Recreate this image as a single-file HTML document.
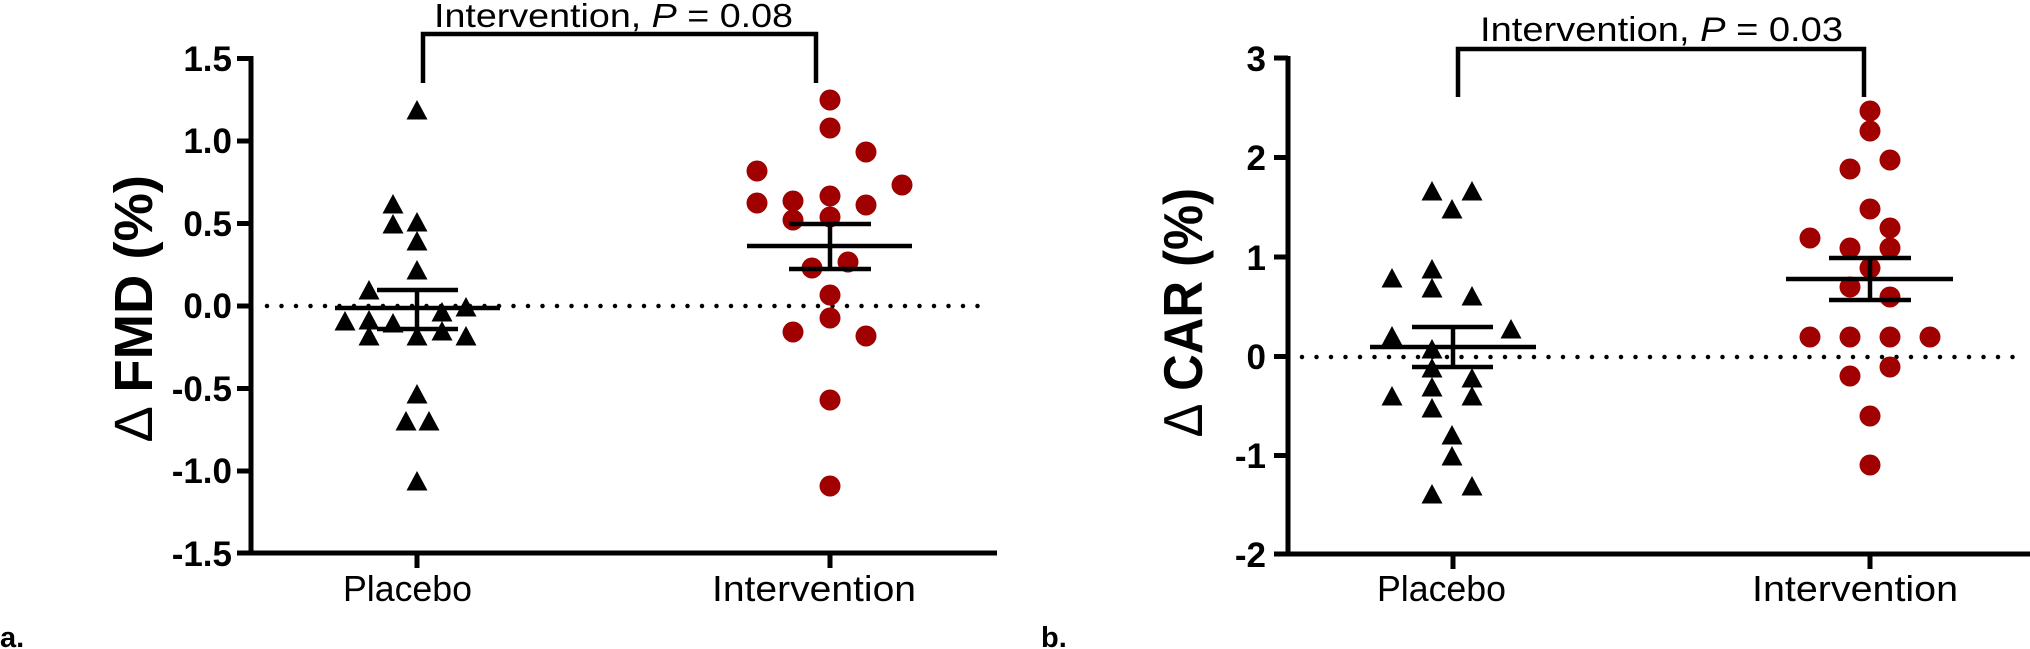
<!DOCTYPE html>
<html><head><meta charset="utf-8"><style>
html,body{margin:0;padding:0;background:#fff;}
svg{display:block;}
text{font-family:"Liberation Sans",sans-serif;}
</style></head><body>
<svg width="2030" height="649" viewBox="0 0 2030 649" xmlns="http://www.w3.org/2000/svg">
<defs>
<path id="tri" d="M0,-11 L10.5,8.5 L-10.5,8.5 Z" fill="#000"/>
<circle id="cir" r="10.5" fill="#a00000"/>
</defs>

<!-- ================= Panel a ================= -->
<g>
<!-- dotted zero line -->
<line x1="267" y1="306" x2="992" y2="306" stroke="#000" stroke-width="4.5" stroke-linecap="round" stroke-dasharray="0 14.5"/>
<!-- axes -->
<line x1="251" y1="56" x2="251" y2="555" stroke="#000" stroke-width="5"/>
<line x1="249" y1="553" x2="997" y2="553" stroke="#000" stroke-width="5"/>
<g stroke="#000" stroke-width="5">
<line x1="237" y1="58.5" x2="251" y2="58.5"/>
<line x1="237" y1="141" x2="251" y2="141"/>
<line x1="237" y1="223.5" x2="251" y2="223.5"/>
<line x1="237" y1="306" x2="251" y2="306"/>
<line x1="237" y1="388.5" x2="251" y2="388.5"/>
<line x1="237" y1="471" x2="251" y2="471"/>
<line x1="237" y1="553" x2="251" y2="553"/>
<line x1="417" y1="553" x2="417" y2="568"/>
<line x1="830" y1="553" x2="830" y2="568"/>
</g>
<g font-weight="bold" font-size="35" text-anchor="end">
<text x="232" y="71">1.5</text>
<text x="232" y="153">1.0</text>
<text x="232" y="236">0.5</text>
<text x="232" y="318">0.0</text>
<text x="232" y="401">-0.5</text>
<text x="232" y="483">-1.0</text>
<text x="232" y="566">-1.5</text>
</g>
<text x="343" y="601" font-size="36" textLength="129" lengthAdjust="spacingAndGlyphs">Placebo</text>
<text x="712" y="601" font-size="36" textLength="204" lengthAdjust="spacingAndGlyphs">Intervention</text>
<!-- y title -->
<text transform="translate(152,441) rotate(-90)" font-size="54" font-weight="bold" textLength="266" lengthAdjust="spacingAndGlyphs"><tspan font-weight="normal">∆</tspan> FMD (%)</text>
<text x="0" y="647" font-size="29" font-weight="bold">a.</text>
<!-- bracket -->
<path d="M423,83 L423,34 L816,34 L816,83" fill="none" stroke="#000" stroke-width="4.5"/>
<text x="434" y="27" font-size="33" textLength="359" lengthAdjust="spacingAndGlyphs">Intervention, <tspan font-style="italic">P</tspan> = 0.08</text>

<!-- placebo triangles -->
<g>
<use href="#tri" x="417" y="111"/>
<use href="#tri" x="393" y="205"/>
<use href="#tri" x="393" y="225"/>
<use href="#tri" x="417" y="223"/>
<use href="#tri" x="417" y="242"/>
<use href="#tri" x="417" y="271"/>
<use href="#tri" x="369" y="291"/>
<use href="#tri" x="345" y="322"/>
<use href="#tri" x="369" y="321"/>
<use href="#tri" x="369" y="337"/>
<use href="#tri" x="393" y="324"/>
<use href="#tri" x="417" y="337"/>
<use href="#tri" x="442" y="313"/>
<use href="#tri" x="442" y="332"/>
<use href="#tri" x="466" y="308"/>
<use href="#tri" x="466" y="337"/>
<use href="#tri" x="417" y="395"/>
<use href="#tri" x="406" y="422"/>
<use href="#tri" x="429" y="422"/>
<use href="#tri" x="417" y="482"/>
</g>
<g stroke="#000" stroke-width="4.5">
<line x1="335" y1="308" x2="500" y2="308"/>
<line x1="377" y1="290" x2="458" y2="290"/>
<line x1="377" y1="329" x2="458" y2="329"/>
<line x1="417" y1="290" x2="417" y2="329"/>
</g>
<!-- intervention circles -->
<g>
<use href="#cir" x="830" y="100"/>
<use href="#cir" x="830" y="128"/>
<use href="#cir" x="830" y="196"/>
<use href="#cir" x="830" y="217"/>
<use href="#cir" x="830" y="295"/>
<use href="#cir" x="830" y="318"/>
<use href="#cir" x="830" y="400"/>
<use href="#cir" x="830" y="486"/>
<use href="#cir" x="866" y="152"/>
<use href="#cir" x="866" y="205"/>
<use href="#cir" x="866" y="336"/>
<use href="#cir" x="757" y="171"/>
<use href="#cir" x="757" y="203"/>
<use href="#cir" x="793" y="201"/>
<use href="#cir" x="793" y="220"/>
<use href="#cir" x="793" y="332"/>
<use href="#cir" x="902" y="185"/>
<use href="#cir" x="812" y="268"/>
<use href="#cir" x="848" y="262"/>
</g>
<g stroke="#000" stroke-width="4.5">
<line x1="747" y1="246" x2="912" y2="246"/>
<line x1="789" y1="224" x2="871" y2="224"/>
<line x1="789" y1="269" x2="871" y2="269"/>
<line x1="830" y1="224" x2="830" y2="269"/>
</g>
</g>

<!-- ================= Panel b ================= -->
<g>
<line x1="1302" y1="357" x2="2024" y2="357" stroke="#000" stroke-width="4.5" stroke-linecap="round" stroke-dasharray="0 14.5"/>
<line x1="1288" y1="56" x2="1288" y2="556" stroke="#000" stroke-width="5"/>
<line x1="1286" y1="554" x2="2030" y2="554" stroke="#000" stroke-width="5"/>
<g stroke="#000" stroke-width="5">
<line x1="1274" y1="58" x2="1288" y2="58"/>
<line x1="1274" y1="157.5" x2="1288" y2="157.5"/>
<line x1="1274" y1="257" x2="1288" y2="257"/>
<line x1="1274" y1="356.5" x2="1288" y2="356.5"/>
<line x1="1274" y1="455.5" x2="1288" y2="455.5"/>
<line x1="1274" y1="554" x2="1288" y2="554"/>
<line x1="1453" y1="554" x2="1453" y2="569"/>
<line x1="1870" y1="554" x2="1870" y2="569"/>
</g>
<g font-weight="bold" font-size="35" text-anchor="end">
<text x="1266" y="71">3</text>
<text x="1266" y="170">2</text>
<text x="1266" y="270">1</text>
<text x="1266" y="369">0</text>
<text x="1266" y="468">-1</text>
<text x="1266" y="567">-2</text>
</g>
<text x="1377" y="601" font-size="36" textLength="129" lengthAdjust="spacingAndGlyphs">Placebo</text>
<text x="1752" y="601" font-size="36" textLength="206" lengthAdjust="spacingAndGlyphs">Intervention</text>
<text transform="translate(1202,436) rotate(-90)" font-size="55" font-weight="bold" textLength="248" lengthAdjust="spacingAndGlyphs"><tspan font-weight="normal">∆</tspan> CAR (%)</text>
<text x="1041" y="647" font-size="29" font-weight="bold">b.</text>
<path d="M1458,97 L1458,49 L1864,49 L1864,97" fill="none" stroke="#000" stroke-width="4.5"/>
<text x="1480" y="41" font-size="34" textLength="363" lengthAdjust="spacingAndGlyphs">Intervention, <tspan font-style="italic">P</tspan> = 0.03</text>

<g>
<use href="#tri" x="1432" y="192"/>
<use href="#tri" x="1432" y="270"/>
<use href="#tri" x="1432" y="289"/>
<use href="#tri" x="1432" y="350"/>
<use href="#tri" x="1432" y="369"/>
<use href="#tri" x="1432" y="388"/>
<use href="#tri" x="1432" y="409"/>
<use href="#tri" x="1432" y="495"/>
<use href="#tri" x="1472" y="192"/>
<use href="#tri" x="1472" y="297"/>
<use href="#tri" x="1472" y="379"/>
<use href="#tri" x="1472" y="397"/>
<use href="#tri" x="1472" y="487"/>
<use href="#tri" x="1452" y="210"/>
<use href="#tri" x="1452" y="436"/>
<use href="#tri" x="1452" y="457"/>
<use href="#tri" x="1511" y="330"/>
<use href="#tri" x="1392" y="279"/>
<use href="#tri" x="1392" y="337"/>
<use href="#tri" x="1392" y="397"/>
</g>
<g stroke="#000" stroke-width="4.5">
<line x1="1370" y1="347" x2="1536" y2="347"/>
<line x1="1412" y1="327" x2="1493" y2="327"/>
<line x1="1412" y1="367" x2="1493" y2="367"/>
<line x1="1453" y1="327" x2="1453" y2="367"/>
</g>
<g>
<use href="#cir" x="1870" y="111"/>
<use href="#cir" x="1870" y="131"/>
<use href="#cir" x="1870" y="209"/>
<use href="#cir" x="1870" y="268"/>
<use href="#cir" x="1870" y="416"/>
<use href="#cir" x="1870" y="465"/>
<use href="#cir" x="1890" y="160"/>
<use href="#cir" x="1890" y="228"/>
<use href="#cir" x="1890" y="248"/>
<use href="#cir" x="1890" y="297"/>
<use href="#cir" x="1890" y="337"/>
<use href="#cir" x="1890" y="367"/>
<use href="#cir" x="1850" y="169"/>
<use href="#cir" x="1850" y="248"/>
<use href="#cir" x="1850" y="287"/>
<use href="#cir" x="1850" y="337"/>
<use href="#cir" x="1850" y="376"/>
<use href="#cir" x="1810" y="238"/>
<use href="#cir" x="1810" y="337"/>
<use href="#cir" x="1930" y="337"/>
</g>
<g stroke="#000" stroke-width="4.5">
<line x1="1786" y1="279" x2="1953" y2="279"/>
<line x1="1829" y1="258" x2="1911" y2="258"/>
<line x1="1829" y1="300" x2="1911" y2="300"/>
<line x1="1870" y1="258" x2="1870" y2="300"/>
</g>
</g>
</svg>
</body></html>
